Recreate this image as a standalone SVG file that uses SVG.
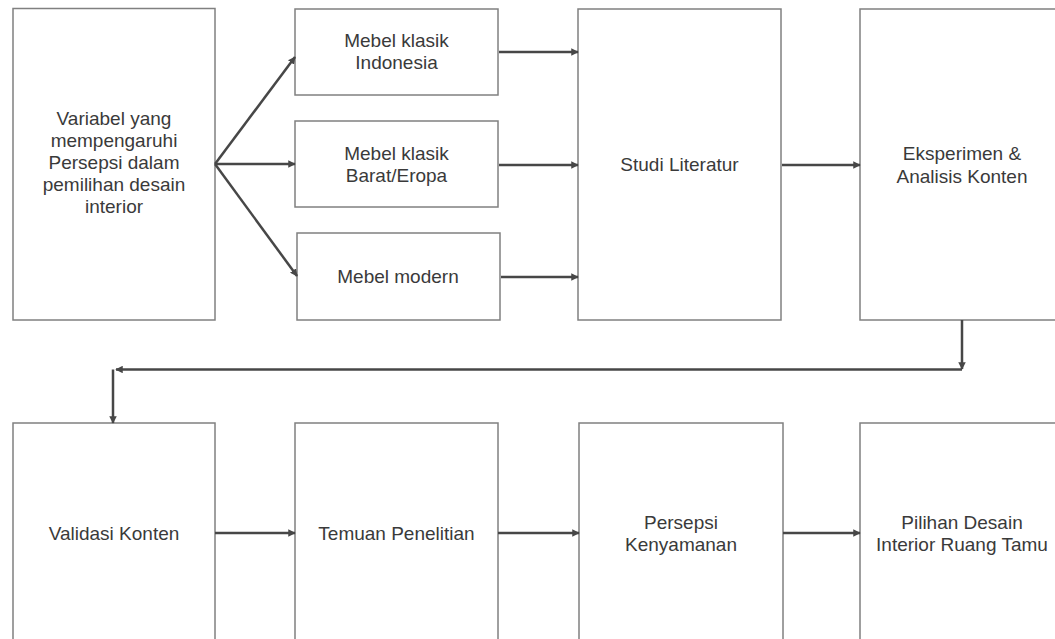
<svg xmlns="http://www.w3.org/2000/svg" width="1055" height="639" viewBox="0 0 1055 639">
<style>
.box{fill:#ffffff;stroke:#808080;stroke-width:1.5}
.lbl{font-family:"Liberation Sans",Arial,sans-serif;font-size:19px;fill:#3a3a3a;text-anchor:middle}
.con{fill:none;stroke:#474747;stroke-width:2.5;marker-end:url(#ah)}
</style>
<defs>
<marker id="ah" viewBox="0 0 10 10" refX="9" refY="5" markerWidth="3" markerHeight="3" orient="auto" markerUnits="strokeWidth">
<path d="M0,0 L10,5 L0,10 z" fill="#474747"/>
</marker>
</defs>
<rect width="1055" height="639" fill="#ffffff"/>
<g id="n-variabel">
<rect class="box" x="13" y="8.5" width="202" height="311.5"/>
<text class="lbl" x="114" y="125">Variabel yang</text>
<text class="lbl" x="114" y="147">mempengaruhi</text>
<text class="lbl" x="114" y="169">Persepsi dalam</text>
<text class="lbl" x="114" y="191">pemilihan desain</text>
<text class="lbl" x="114" y="213">interior</text>
</g>
<g id="n-indonesia">
<rect class="box" x="295" y="9" width="203" height="86"/>
<text class="lbl" x="396.5" y="47">Mebel klasik</text>
<text class="lbl" x="396.5" y="69">Indonesia</text>
</g>
<g id="n-barat">
<rect class="box" x="295" y="121" width="203" height="86"/>
<text class="lbl" x="396.5" y="160">Mebel klasik</text>
<text class="lbl" x="396.5" y="182">Barat/Eropa</text>
</g>
<g id="n-modern">
<rect class="box" x="297" y="233" width="203" height="87"/>
<text class="lbl" x="398" y="283">Mebel modern</text>
</g>
<g id="n-studi">
<rect class="box" x="578" y="9" width="203" height="311"/>
<text class="lbl" x="679.5" y="171">Studi Literatur</text>
</g>
<g id="n-eksperimen">
<rect class="box" x="860" y="9" width="204" height="311"/>
<text class="lbl" x="962" y="160">Eksperimen &amp;</text>
<text class="lbl" x="962" y="183">Analisis Konten</text>
</g>
<g id="n-validasi">
<rect class="box" x="13" y="423" width="202" height="222"/>
<text class="lbl" x="114" y="540">Validasi Konten</text>
</g>
<g id="n-temuan">
<rect class="box" x="295" y="423" width="203" height="222"/>
<text class="lbl" x="396.5" y="540">Temuan Penelitian</text>
</g>
<g id="n-persepsi">
<rect class="box" x="579" y="423" width="204" height="222"/>
<text class="lbl" x="681" y="529">Persepsi</text>
<text class="lbl" x="681" y="551">Kenyamanan</text>
</g>
<g id="n-pilihan">
<rect class="box" x="860" y="423" width="204" height="222"/>
<text class="lbl" x="962" y="529">Pilihan Desain</text>
<text class="lbl" x="962" y="551">Interior Ruang Tamu</text>
</g>
<g id="connectors">
<path class="con" d="M215,164 L295,57"/>
<path class="con" d="M215,164 L295,164"/>
<path class="con" d="M215,164 L297,276"/>
<path class="con" d="M499,52 L578,52"/>
<path class="con" d="M499,165 L578,165"/>
<path class="con" d="M501,277 L578,277"/>
<path class="con" d="M782,165 L860,165"/>
<path class="con" d="M962,320 L962,369"/>
<path class="con" d="M962,369.5 L116,369.5"/>
<path class="con" d="M113,369.5 L113,423"/>
<path class="con" d="M215,533 L295,533"/>
<path class="con" d="M498,533 L579,533"/>
<path class="con" d="M783,533 L860,533"/>
</g>
</svg>
